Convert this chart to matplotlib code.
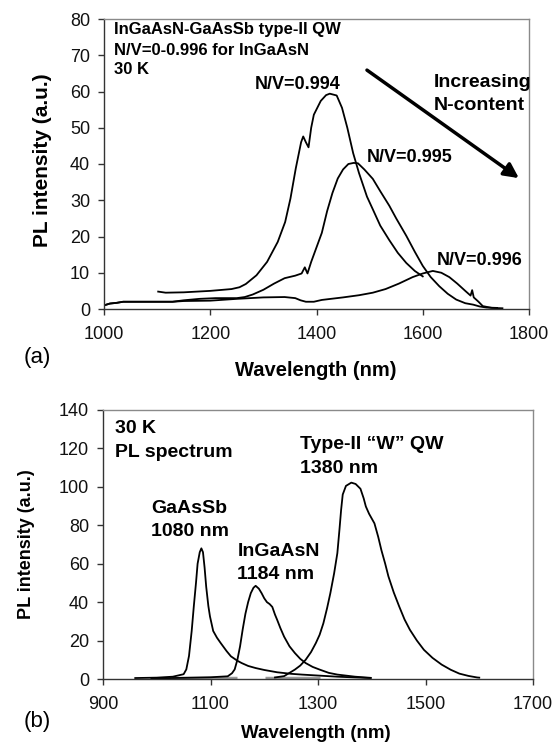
import matplotlib
matplotlib.use("Agg")
import matplotlib.pyplot as plt

plt.rcParams['font.family'] = ['Liberation Sans', 'DejaVu Sans']

# ---------------- Panel (a) data ----------------
a_x_994 = [1102, 1116, 1150, 1200, 1240, 1255, 1267, 1287, 1307, 1327, 1341, 1351, 1361, 1371, 1375,
           1380, 1385, 1390, 1395, 1408, 1418, 1425, 1438, 1448, 1458, 1469, 1480, 1495, 1506, 1520,
           1537, 1553, 1569, 1585, 1600]
a_y_994 = [4.8, 4.5, 4.6, 5.0, 5.5, 6.0, 6.9, 9.3, 13.0, 18.5, 24.0, 30.5, 38.8, 46.0, 47.6,
           46.0, 44.6, 50.0, 53.6, 57.4, 59.0, 59.4, 58.9, 55.5, 50.0, 43.0, 37.5, 31.0, 27.5, 23.0,
           19.0, 15.5, 12.7, 10.5, 9.0]

a_x_995 = [1000, 1011, 1024, 1036, 1080, 1129, 1150, 1180, 1210, 1250, 1265, 1280, 1300, 1320, 1340,
           1360, 1372, 1378, 1383, 1390, 1400, 1410, 1420, 1430, 1440, 1450, 1460, 1470, 1478, 1490,
           1506, 1520, 1537, 1550, 1569, 1585, 1600, 1615, 1631, 1647, 1663, 1680, 1695, 1707, 1720, 1740]
a_y_995 = [1.0, 1.5, 1.7, 2.0, 2.0, 2.0, 2.4, 2.8, 3.0, 3.0, 3.3, 4.0, 5.3, 7.0, 8.5,
           9.2, 9.8, 11.5, 9.8, 13.0, 17.0, 21.0, 27.0, 32.0, 36.0, 38.5, 40.0, 40.3, 40.2, 38.5,
           35.9, 32.5, 28.5, 25.0, 20.2, 15.8, 11.9, 8.8, 6.3, 4.2, 2.6, 1.6, 1.2, 0.7, 0.4, 0.3]

a_x_996 = [1000, 1011, 1024, 1036, 1080, 1129, 1150, 1200, 1250, 1300, 1340, 1360, 1370, 1380, 1395,
           1410, 1450, 1480, 1506, 1530, 1555, 1581, 1600, 1619, 1635, 1650, 1665, 1680, 1690, 1693,
           1696, 1705, 1713, 1730, 1750]
a_y_996 = [1.0, 1.5, 1.7, 2.0, 2.0, 2.0, 2.2, 2.3, 2.8, 3.2, 3.3, 3.0, 2.4, 2.0, 2.0,
           2.5, 3.2, 3.8, 4.5, 5.5, 7.0, 8.8, 9.8, 10.5, 10.0, 8.8, 7.0, 5.0, 3.7, 5.2,
           3.2, 2.0, 0.8, 0.3, 0.2]

a_xticks = [1000, 1200, 1400, 1600, 1800]
a_yticks = [0, 10, 20, 30, 40, 50, 60, 70, 80]

# ---------------- Panel (b) data ----------------
b_x_gaassb = [960, 1000, 1030, 1050, 1055, 1060, 1065, 1069, 1073, 1076, 1080, 1083, 1086, 1089, 1092,
              1096, 1099, 1105, 1112, 1119, 1130, 1138, 1150, 1158, 1170, 1184, 1200, 1224, 1250, 1270,
              1300, 1336, 1370, 1398]
b_y_gaassb = [0.5, 0.7, 1.2, 2.5, 5, 12, 25, 38, 50, 60, 66, 68, 66, 58, 48,
              38, 32.6, 25, 21.5, 18.7, 14.5, 11.8, 9.5, 8.3, 6.8, 5.7, 4.7, 3.5, 2.7, 2.3,
              1.8, 1.2, 0.8, 0.5]

b_x_ingaasn = [990, 1050, 1100, 1132, 1140, 1145, 1150, 1155, 1160, 1165, 1170, 1175, 1180, 1184, 1190,
               1195, 1200, 1205, 1210, 1215, 1220, 1224, 1230, 1237, 1247, 1257, 1267, 1277, 1290, 1303,
               1320, 1336, 1369, 1398]
b_y_ingaasn = [0.3, 0.6, 0.9, 1.4, 3, 5, 10, 17, 26, 34, 40, 44.7, 47.5, 48.5, 47,
               44.7, 42, 40, 39, 37.5, 33.5, 30.8, 26.5, 22, 17, 13.5, 10.5, 8.3, 6.3, 4.9,
               3.2, 2.3, 1.2, 0.6]

b_x_w = [1220, 1237, 1257, 1267, 1277, 1287, 1296, 1303, 1310, 1317, 1323, 1330, 1336, 1340, 1343,
         1346, 1352, 1362, 1370, 1379, 1385, 1389, 1395, 1405, 1412, 1418, 1425, 1431, 1441, 1451,
         1461, 1471, 1484, 1497, 1513, 1530, 1547, 1563, 1580, 1596, 1600]
b_y_w = [0.8, 1.5, 4.9, 7, 10, 14, 18.7, 23, 29, 37, 44.7, 55, 65.5, 78, 88,
         96, 100.5, 102.2, 101.5, 99, 94, 89.8, 86, 81, 74, 67, 60, 53.4, 45, 37.8,
         31, 25.6, 20, 15.2, 11, 7.5, 4.8, 2.8, 1.6, 0.8, 0.7]

# faint grey baseline segments seen near zero in panel (b)
b_x_grey1 = [1028, 1149]
b_x_grey2 = [1201, 1304]
b_y_grey = [0.7, 0.7]

b_xticks = [900, 1100, 1300, 1500, 1700]
b_yticks = [0, 20, 40, 60, 80, 100, 120, 140]

W, H = 559, 744
fig = plt.figure(figsize=(W / 100, H / 100), dpi=100)

def box(l, t, r, b):
    return [l / W, 1 - b / H, (r - l) / W, (b - t) / H]

def style(ax, xlim, ylim, xt, yt):
    ax.set_xlim(*xlim)
    ax.set_ylim(*ylim)
    ax.set_xticks(xt)
    ax.set_yticks(yt)
    for s in ['top', 'right']:
        ax.spines[s].set_color('#8a8a8a')
        ax.spines[s].set_linewidth(1.0)
    for s in ['left', 'bottom']:
        ax.spines[s].set_color('#333333')
        ax.spines[s].set_linewidth(1.0)
    ax.tick_params(axis='both', direction='out', length=4, width=1.0, color='#333333',
                   labelsize=13, labelcolor='#111111')
    ax.tick_params(axis='x', pad=8)
    ax.tick_params(axis='y', pad=6)

lw = 1.3
# ---------------- Panel (a) ----------------
axa = fig.add_axes(box(104, 19, 529, 309))
style(axa, (1000, 1800), (0, 80), a_xticks, a_yticks)
axa.plot(a_x_994, a_y_994, color='black', lw=lw)
axa.plot(a_x_995, a_y_995, color='black', lw=lw)
axa.plot(a_x_996, a_y_996, color='black', lw=lw)

tk = dict(fontsize=12, fontweight='bold', ha='left', va='center')
axa.text(1018, 77, 'InGaAsN-GaAsSb type-II QW', **tk)
axa.text(1018, 71.4, 'N/V=0-0.996 for InGaAsN', **tk)
axa.text(1018, 66, '30 K', **tk)
lk = dict(fontsize=13, fontweight='bold', ha='center', va='center')
axa.text(1364, 62, 'N/V=0.994', **lk)
axa.text(1576, 41.8, 'N/V=0.995', **lk)
axa.text(1708, 13.4, 'N/V=0.996', **lk)
axa.text(1620, 62.4, 'Increasing', fontsize=14, fontweight='bold', ha='left', va='center')
axa.text(1620, 56.2, 'N-content', fontsize=14, fontweight='bold', ha='left', va='center')
axa.annotate('', xy=(1781, 36.1), xytext=(1495, 65.9),
             arrowprops=dict(arrowstyle='-|>', color='black', lw=2.5,
                             mutation_scale=22, shrinkA=0, shrinkB=0))

fig.text(42 / W, 1 - 160 / H, 'PL intensity (a.u.)', rotation=90, fontsize=15,
         fontweight='bold', ha='center', va='center')
fig.text(316 / W, 1 - 370 / H, 'Wavelength (nm)', fontsize=14.5, fontweight='bold',
         ha='center', va='center')
fig.text(24 / W, 1 - 358 / H, '(a)', fontsize=16, ha='left', va='center')

# ---------------- Panel (b) ----------------
axb = fig.add_axes(box(103, 410, 533, 679))
style(axb, (900, 1700), (0, 140), b_xticks, b_yticks)
axb.plot(b_x_grey1, b_y_grey, color='#9a9a9a', lw=2.5, solid_capstyle='butt')
axb.plot(b_x_grey2, b_y_grey, color='#9a9a9a', lw=2.5, solid_capstyle='butt')
axb.plot(b_x_gaassb, b_y_gaassb, color='black', lw=lw)
axb.plot(b_x_ingaasn, b_y_ingaasn, color='black', lw=lw)
axb.plot(b_x_w, b_y_w, color='black', lw=lw)

bk = dict(fontsize=14, fontweight='bold', ha='left', va='center')
axb.text(923, 130.5, '30 K', **bk)
axb.text(923, 117.8, 'PL spectrum', **bk)
axb.text(1267, 122.3, 'Type-II \u201cW\u201d QW', **bk)
axb.text(1267, 109.7, '1380 nm', **bk)
axb.text(990, 88.9, 'GaAsSb', **bk)
axb.text(990, 76.8, '1080 nm', **bk)
axb.text(1150, 66.4, 'InGaAsN', **bk)
axb.text(1150, 54.2, '1184 nm', **bk)

fig.text(27 / W, 1 - 544 / H, 'PL intensity (a.u.)', rotation=90, fontsize=13,
         fontweight='bold', ha='center', va='center')
fig.text(316 / W, 1 - 733 / H, 'Wavelength (nm)', fontsize=13.5, fontweight='bold',
         ha='center', va='center')
fig.text(24 / W, 1 - 722 / H, '(b)', fontsize=16, ha='left', va='center')

fig.savefig('out.png', dpi=100, facecolor='white')
